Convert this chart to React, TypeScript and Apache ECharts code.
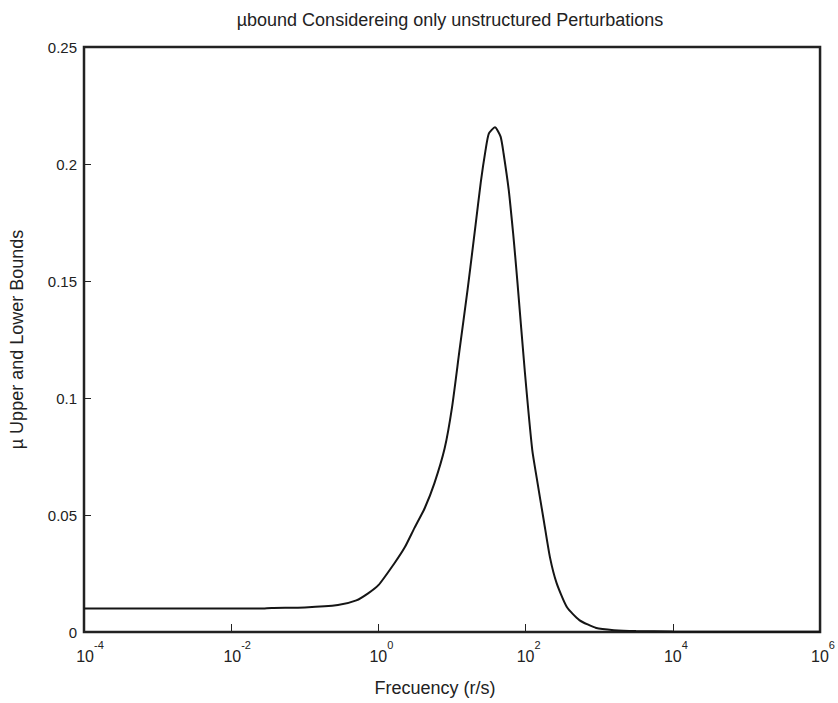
import React, { useEffect, useRef } from "react";
import * as echarts from "echarts";

// log10 of frequency (r/s) and mu bound
const logFreq = [
  -4, -1.6, -1.45, -1.0, -0.55, -0.3, -0.14, 0, 0.22, 0.36, 0.49, 0.63, 0.76,
  0.9, 1.0, 1.1, 1.21, 1.25, 1.32, 1.39, 1.456, 1.5, 1.583, 1.66, 1.7, 1.77,
  1.83, 1.86, 1.89, 1.99, 2.09, 2.15, 2.25, 2.33, 2.42, 2.56, 2.73, 2.96, 3.2,
  3.5, 4, 6,
];
const muBound = [
  0.01, 0.01, 0.0103, 0.0105, 0.0115, 0.0135, 0.0165, 0.02, 0.0295, 0.0363,
  0.0445, 0.053, 0.0635, 0.0785, 0.096, 0.12, 0.146, 0.156, 0.174, 0.192,
  0.206, 0.213, 0.2157, 0.2117, 0.2046, 0.189, 0.1705, 0.16, 0.149, 0.111,
  0.0778, 0.066, 0.047, 0.032, 0.021, 0.0107, 0.0051, 0.0017, 0.0008, 0.0004,
  0.0002, 0.0001,
];

const titleText = "\u00b5bound Considereing only unstructured Perturbations";
const xName = "Frecuency (r/s)";
const yName = "\u00b5 Upper and Lower Bounds";

const FONT = "'Liberation Sans', Arial, sans-serif";
const INK = "#222222";

export default function App() {
  const ref = useRef<HTMLDivElement>(null);
  useEffect(() => {
    if (!ref.current) return;
    const chart = echarts.init(ref.current, null, { renderer: "svg" });
    const data = logFreq.map((e, i) => [Math.pow(10, e), muBound[i]]);
    chart.setOption({
      animation: false,
      backgroundColor: "#ffffff",
      title: [
        {
          text: titleText,
          left: 445,
          top: 6,
          textAlign: "center",
          textStyle: { fontFamily: FONT, fontSize: 18, fontWeight: "normal", color: INK },
        },
        {
          text: xName,
          left: 430,
          top: 674,
          textAlign: "center",
          textStyle: { fontFamily: FONT, fontSize: 18, fontWeight: "normal", color: INK },
        },
      ],
      grid: {
        left: 84,
        right: 13,
        top: 47,
        bottom: 71,
        show: true,
        borderColor: INK,
        borderWidth: 2.5,
        backgroundColor: "#ffffff",
      },
      xAxis: {
        type: "log",
        logBase: 10,
        min: 0.0001,
        max: 1000000,
        interval: 2,
        axisLine: { show: false },
        axisTick: { show: true, inside: true, length: 8, lineStyle: { color: INK, width: 1 } },
        minorTick: { show: false },
        splitLine: { show: false },
        axisLabel: {
          margin: 7,
          color: INK,
          fontFamily: FONT,
          formatter: (v: number) => {
            const e = String(Math.round(Math.log10(v)));
            return `{p${e.length}|}{b|10}{e|${e}}`;
          },
          rich: {
            p1: { width: 6, lineHeight: 25 },
            p2: { width: 12, lineHeight: 25 },
            b: { fontSize: 16, lineHeight: 17, verticalAlign: "bottom", fontFamily: FONT, color: INK },
            e: { fontSize: 11, lineHeight: 12, verticalAlign: "top", fontFamily: FONT, color: INK },
          },
        },
      },
      yAxis: {
        type: "value",
        min: 0,
        max: 0.25,
        interval: 0.05,
        name: yName,
        nameLocation: "middle",
        nameRotate: 90,
        nameGap: 58,
        nameTextStyle: { fontFamily: FONT, fontSize: 18, color: INK },
        axisLine: { show: false },
        axisTick: { show: true, inside: true, length: 7, lineStyle: { color: INK, width: 1 } },
        splitLine: { show: false },
        axisLabel: { margin: 7, color: INK, fontFamily: FONT, fontSize: 15 },
      },
      series: [
        {
          type: "line",
          data,
          showSymbol: false,
          symbol: "none",
          lineStyle: { color: "#151515", width: 2 },
          smooth: 0.2,
        },
      ],
    });
    return () => chart.dispose();
  }, []);
  return (
    <div
      ref={ref}
      style={{ position: "absolute", left: 0, top: 0, width: 838, height: 703 }}
    />
  );
}
